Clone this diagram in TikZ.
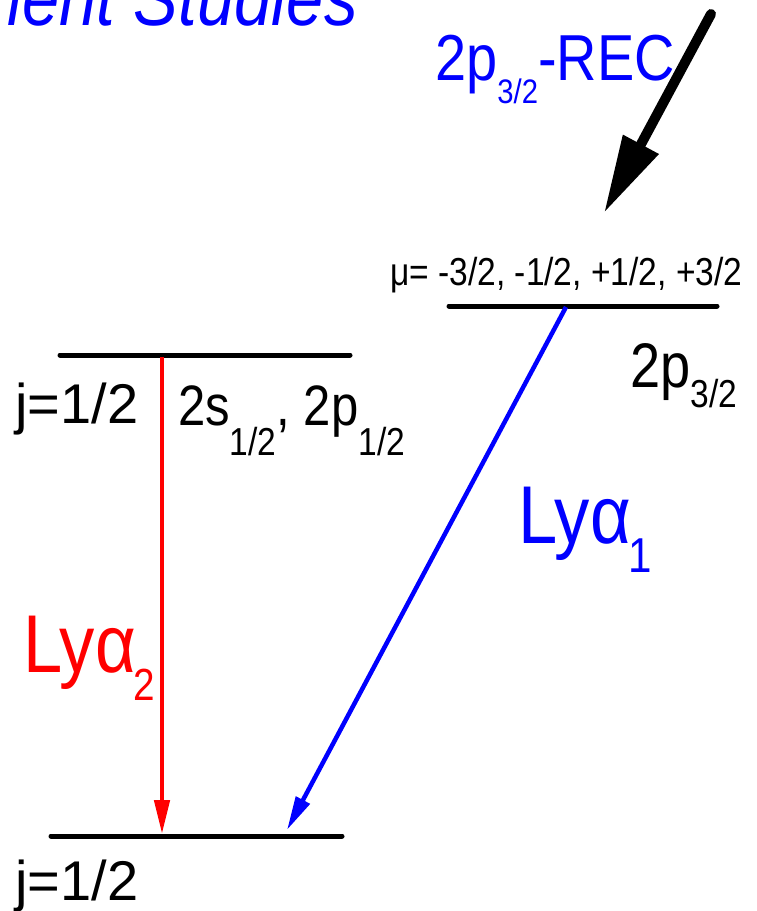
\documentclass[tikz,border=0pt]{standalone}
\usepackage{fontspec}
\setmainfont{Liberation Sans}
\newfontfamily\narrowsf{Liberation Sans}[FakeStretch=0.86]
\usetikzlibrary{arrows.meta}
\newcommand{\lowsub}[3]{\raisebox{-#1}{\fontsize{#2}{#2}\selectfont #3}}

\begin{document}
\begin{tikzpicture}[x=1pt, y=-1pt,
    level/.style={line width=5pt, line cap=round},
    lbl/.style={inner sep=0pt, anchor=base west, font=\narrowsf\fontsize{#1}{#1}\selectfont},
    jlbl/.style={inner sep=0pt, anchor=base west, font=\fontsize{56}{56}\selectfont},
    decay/.style={line width=4.5pt, draw=#1, -{Triangle[length=34pt, width=15pt]}},
    capture/.style={line width=10pt, line cap=round, -{Triangle[length=78pt, width=38pt]}},
]
\useasboundingbox (0,0) rectangle (756,911);

\node[inner sep=0pt, anchor=base east, text=blue, font=\narrowsf\itshape\fontsize{78}{78}\selectfont]
    (title) at (358,25) {ment Studies};

% levels
\coordinate (p32-l) at (449,306);
\coordinate (p32-r) at (717,306);
\coordinate (s12-l) at (60,355);
\coordinate (s12-r) at (350,355);
\coordinate (gnd-l) at (51,836);
\coordinate (gnd-r) at (342,836);
\draw[level] (p32-l) -- (p32-r);
\draw[level] (s12-l) -- (s12-r);
\draw[level] (gnd-l) -- (gnd-r);

\coordinate (rec-in) at (711,14);
\coordinate (rec-out) at (604,213);
\coordinate (p32-x) at (566,307);
\coordinate (s12-x) at (162,357);
\coordinate (ly1-end) at (287,830);
\coordinate (ly2-end) at (162,834);

\draw[capture] (rec-in) -- (rec-out);
\draw[decay=red] (s12-x) -- (ly2-end);
\draw[decay=blue] (p32-x) -- (ly1-end);

\node[lbl=65, text=blue] (rec) at (435,80) {2p\lowsub{23pt}{34}{3/2}-REC};
\node[lbl=39] (mu) at (390,285) {μ= -3/2, -1/2, +1/2, +3/2};
\node[lbl=63] (p32) at (630,387) {2p\lowsub{20pt}{39}{3/2}};
\node[jlbl] (j-up) at (15,423) {j=1/2};
\node[lbl=57] (s12) at (178,425) {2s\lowsub{30pt}{39}{1/2}, 2p\lowsub{30pt}{39}{1/2}};
\node[lbl=82, text=blue] (ly1) at (518,543) {Lyα\kern-2pt\lowsub{29pt}{49}{1}};
\node[lbl=82, text=red] (ly2) at (23,672) {Lyα\kern-2pt\lowsub{28pt}{45}{2}};
\node[jlbl] (j-low) at (15,900) {j=1/2};
\end{tikzpicture}
\end{document}
